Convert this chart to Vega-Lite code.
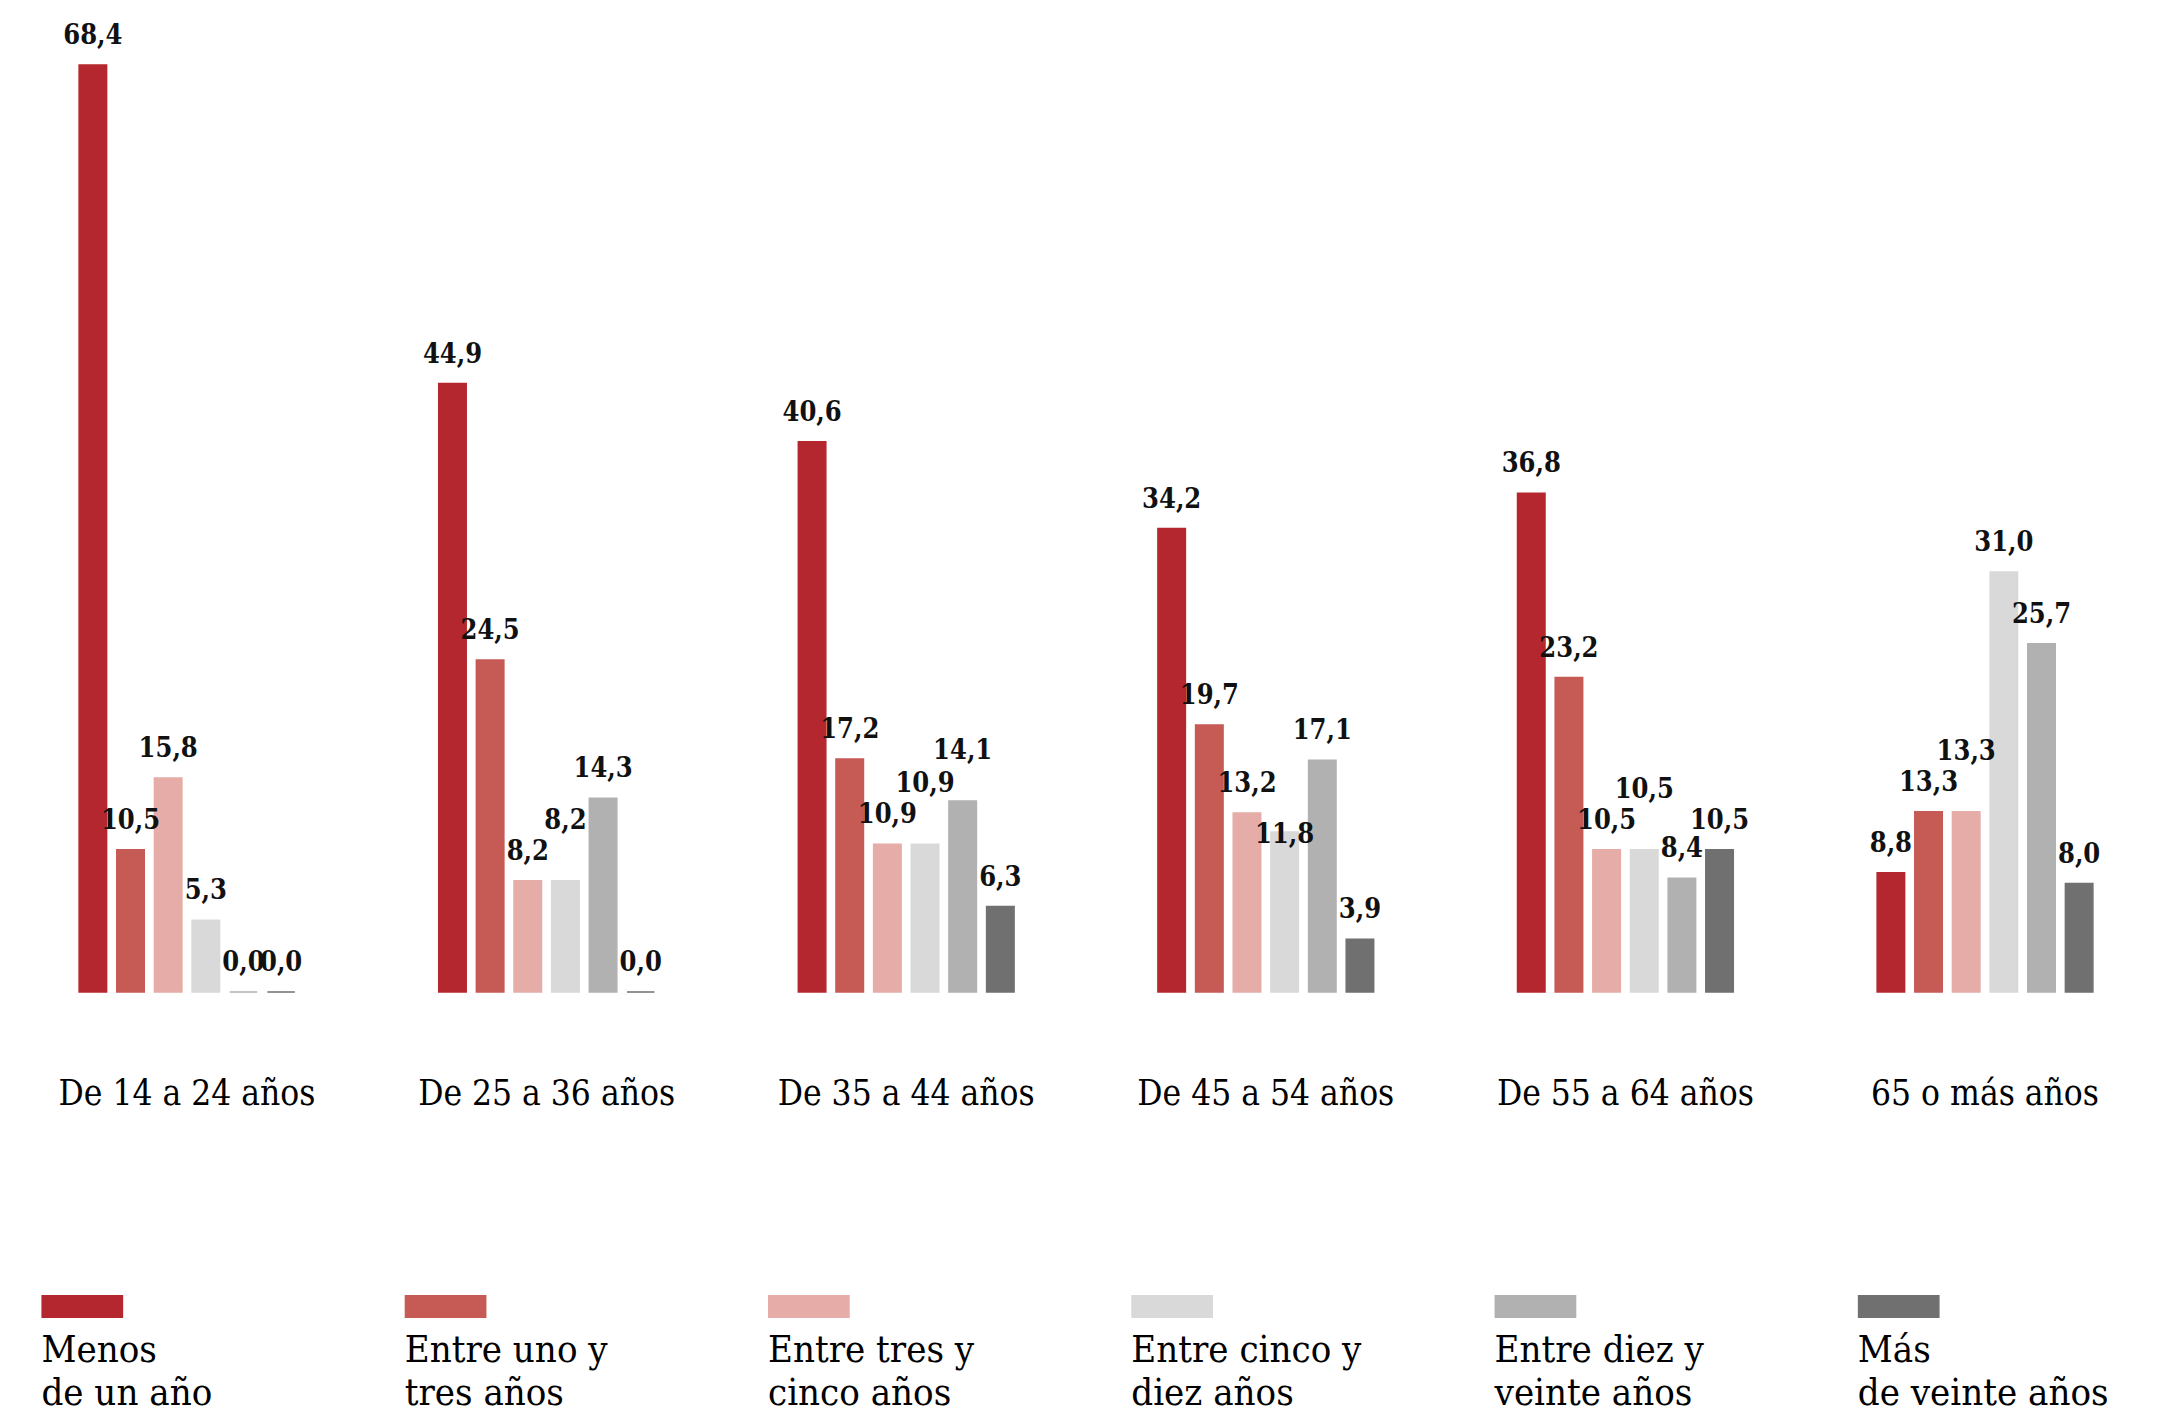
{
  "$schema": "https://vega.github.io/schema/vega-lite/v6.json",
  "padding": 0,
  "background": "white",
  "config": {
    "view": {"stroke": null},
    "locale": {"number": {"decimal": ",", "thousands": ".", "grouping": [3], "currency": ["", " €"]}},
    "font": "DejaVu Serif Condensed"
  },
  "datasets": {
    "bars": [
      {"edad": "De 14 a 24 años", "cat": "Menos de un año", "v": 68.4},
      {"edad": "De 14 a 24 años", "cat": "Entre uno y tres años", "v": 10.5},
      {"edad": "De 14 a 24 años", "cat": "Entre tres y cinco años", "v": 15.8},
      {"edad": "De 14 a 24 años", "cat": "Entre cinco y diez años", "v": 5.3},
      {"edad": "De 14 a 24 años", "cat": "Entre diez y veinte años", "v": 0.0},
      {"edad": "De 14 a 24 años", "cat": "Más de veinte años", "v": 0.0},
      {"edad": "De 25 a 36 años", "cat": "Menos de un año", "v": 44.9},
      {"edad": "De 25 a 36 años", "cat": "Entre uno y tres años", "v": 24.5},
      {"edad": "De 25 a 36 años", "cat": "Entre tres y cinco años", "v": 8.2},
      {"edad": "De 25 a 36 años", "cat": "Entre cinco y diez años", "v": 8.2},
      {"edad": "De 25 a 36 años", "cat": "Entre diez y veinte años", "v": 14.3},
      {"edad": "De 25 a 36 años", "cat": "Más de veinte años", "v": 0.0},
      {"edad": "De 35 a 44 años", "cat": "Menos de un año", "v": 40.6},
      {"edad": "De 35 a 44 años", "cat": "Entre uno y tres años", "v": 17.2},
      {"edad": "De 35 a 44 años", "cat": "Entre tres y cinco años", "v": 10.9},
      {"edad": "De 35 a 44 años", "cat": "Entre cinco y diez años", "v": 10.9},
      {"edad": "De 35 a 44 años", "cat": "Entre diez y veinte años", "v": 14.1},
      {"edad": "De 35 a 44 años", "cat": "Más de veinte años", "v": 6.3},
      {"edad": "De 45 a 54 años", "cat": "Menos de un año", "v": 34.2},
      {"edad": "De 45 a 54 años", "cat": "Entre uno y tres años", "v": 19.7},
      {"edad": "De 45 a 54 años", "cat": "Entre tres y cinco años", "v": 13.2},
      {"edad": "De 45 a 54 años", "cat": "Entre cinco y diez años", "v": 11.8},
      {"edad": "De 45 a 54 años", "cat": "Entre diez y veinte años", "v": 17.1},
      {"edad": "De 45 a 54 años", "cat": "Más de veinte años", "v": 3.9},
      {"edad": "De 55 a 64 años", "cat": "Menos de un año", "v": 36.8},
      {"edad": "De 55 a 64 años", "cat": "Entre uno y tres años", "v": 23.2},
      {"edad": "De 55 a 64 años", "cat": "Entre tres y cinco años", "v": 10.5},
      {"edad": "De 55 a 64 años", "cat": "Entre cinco y diez años", "v": 10.5},
      {"edad": "De 55 a 64 años", "cat": "Entre diez y veinte años", "v": 8.4},
      {"edad": "De 55 a 64 años", "cat": "Más de veinte años", "v": 10.5},
      {"edad": "65 o más años", "cat": "Menos de un año", "v": 8.8},
      {"edad": "65 o más años", "cat": "Entre uno y tres años", "v": 13.3},
      {"edad": "65 o más años", "cat": "Entre tres y cinco años", "v": 13.3},
      {"edad": "65 o más años", "cat": "Entre cinco y diez años", "v": 31.0},
      {"edad": "65 o más años", "cat": "Entre diez y veinte años", "v": 25.7},
      {"edad": "65 o más años", "cat": "Más de veinte años", "v": 8.0}
    ],
    "legend": [
      {"cat": "Menos de un año", "label": "Menos\nde un año"},
      {"cat": "Entre uno y tres años", "label": "Entre uno y\ntres años"},
      {"cat": "Entre tres y cinco años", "label": "Entre tres y\ncinco años"},
      {"cat": "Entre cinco y diez años", "label": "Entre cinco y\ndiez años"},
      {"cat": "Entre diez y veinte años", "label": "Entre diez y\nveinte años"},
      {"cat": "Más de veinte años", "label": "Más\nde veinte años"}
    ]
  },
  "vconcat": [
    {
      "width": 2172,
      "height": 992,
      "data": {"name": "bars"},
      "encoding": {
        "x": {
          "field": "edad", "type": "nominal",
          "sort": ["De 14 a 24 años", "De 25 a 36 años", "De 35 a 44 años", "De 45 a 54 años", "De 55 a 64 años", "65 o más años"],
          "scale": {"paddingInner": 0.4, "paddingOuter": 0.22},
          "axis": {"title": null, "domain": false, "ticks": false, "labelAngle": 0, "labelFontSize": 35, "labelColor": "#000000", "labelPadding": 84, "labelLimit": 600, "labelFont": "DejaVu Serif Condensed"}
        },
        "xOffset": {
          "field": "cat", "type": "nominal",
          "sort": ["Menos de un año", "Entre uno y tres años", "Entre tres y cinco años", "Entre cinco y diez años", "Entre diez y veinte años", "Más de veinte años"],
          "scale": {"paddingInner": 0.27, "paddingOuter": 0}
        },
        "y": {"field": "v", "type": "quantitative", "scale": {"domain": [0, 73.2], "nice": false, "zero": true}, "axis": null}
      },
      "layer": [
        {
          "mark": {"type": "bar", "strokeWidth": 1.5},
          "encoding": {
            "color": {
              "field": "cat", "type": "nominal", "legend": null,
              "scale": {
                "domain": ["Menos de un año", "Entre uno y tres años", "Entre tres y cinco años", "Entre cinco y diez años", "Entre diez y veinte años", "Más de veinte años"],
                "range": ["#B5272E", "#C65A55", "#E6ACA7", "#D9D9D9", "#B1B1B1", "#707070"]
              }
            },
            "stroke": {"field": "cat", "type": "nominal", "legend": null, "scale": {
                "domain": ["Menos de un año", "Entre uno y tres años", "Entre tres y cinco años", "Entre cinco y diez años", "Entre diez y veinte años", "Más de veinte años"],
                "range": ["#B5272E", "#C65A55", "#E6ACA7", "#D9D9D9", "#B1B1B1", "#707070"]
              }}
          }
        },
        {
          "transform": [
            {"window": [{"op": "lag", "field": "v", "as": "prev"}, {"op": "lag", "field": "v", "param": 2, "as": "prev2"}], "groupby": ["edad"]},
            {"calculate": "datum.prev != null && abs(datum.v - datum.prev) < 0.5 && datum.v > 0 ? 'up' : (datum.prev != null && datum.prev2 != null && abs(datum.prev - datum.prev2) < 0.5 && datum.prev > 0 && datum.v - datum.prev > 0 && datum.v - datum.prev < 4 ? 'up2' : (datum.prev != null && datum.prev - datum.v > 0.5 && datum.prev - datum.v < 2 ? 'down' : 'mid'))", "as": "shift"}
          ],
          "encoding": {"text": {"field": "v", "type": "quantitative", "format": ".1f"}},
          "layer": [
            {
              "transform": [{"filter": "datum.shift == 'mid'"}],
              "mark": {"type": "text", "baseline": "alphabetic", "dy": -21, "fontSize": 27, "fontWeight": "bold", "color": "#111111", "font": "DejaVu Serif Condensed"}
            },
            {
              "transform": [{"filter": "datum.shift == 'up'"}],
              "mark": {"type": "text", "baseline": "alphabetic", "dy": -52, "fontSize": 27, "fontWeight": "bold", "color": "#111111", "font": "DejaVu Serif Condensed"}
            },
            {
              "transform": [{"filter": "datum.shift == 'up2'"}],
              "mark": {"type": "text", "baseline": "alphabetic", "dy": -42, "fontSize": 27, "fontWeight": "bold", "color": "#111111", "font": "DejaVu Serif Condensed"}
            },
            {
              "transform": [{"filter": "datum.shift == 'down'"}],
              "mark": {"type": "text", "baseline": "alphabetic", "dy": 11, "fontSize": 27, "fontWeight": "bold", "color": "#111111", "font": "DejaVu Serif Condensed"}
            }
          ]
        }
      ]
    },
    {
      "vconcat": [
        {
          "width": 1981,
          "height": 23,
          "data": {"name": "legend"},
          "mark": {"type": "bar"},
          "encoding": {
            "x": {
              "field": "cat", "type": "nominal",
              "sort": ["Menos de un año", "Entre uno y tres años", "Entre tres y cinco años", "Entre cinco y diez años", "Entre diez y veinte años", "Más de veinte años"],
              "scale": {"type": "band", "paddingInner": 0.775, "paddingOuter": 0.114},
              "axis": null
            },
            "color": {
              "field": "cat", "type": "nominal", "legend": null,
              "scale": {
                "domain": ["Menos de un año", "Entre uno y tres años", "Entre tres y cinco años", "Entre cinco y diez años", "Entre diez y veinte años", "Más de veinte años"],
                "range": ["#B5272E", "#C65A55", "#E6ACA7", "#D9D9D9", "#B1B1B1", "#707070"]
              }
            }
          }
        },
        {
          "width": 1981,
          "height": 38,
          "data": {"name": "legend"},
          "mark": {"type": "text", "align": "left", "baseline": "middle", "fontSize": 38, "lineHeight": 43, "lineBreak": "\n", "color": "#000000", "font": "DejaVu Serif Condensed"},
          "encoding": {
            "x": {
              "field": "cat", "type": "nominal", "bandPosition": 0,
              "sort": ["Menos de un año", "Entre uno y tres años", "Entre tres y cinco años", "Entre cinco y diez años", "Entre diez y veinte años", "Más de veinte años"],
              "scale": {"type": "band", "paddingInner": 0.775, "paddingOuter": 0.114},
              "axis": null
            },
            "text": {"field": "label", "type": "nominal"}
          }
        }
      ],
      "spacing": 14
    }
  ],
  "spacing": 184
}
